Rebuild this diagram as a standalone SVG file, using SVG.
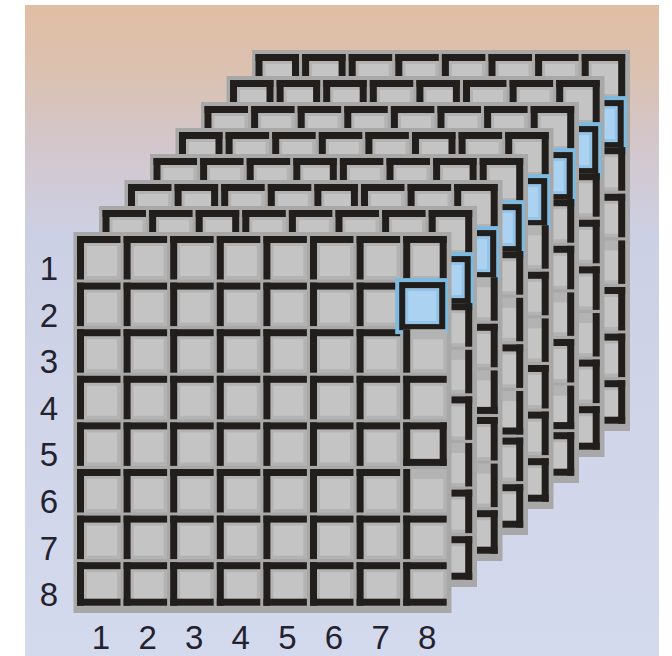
<svg xmlns="http://www.w3.org/2000/svg" width="672" height="656" viewBox="0 0 672 656">
<style>
.lbl{font-family:"Liberation Sans",Arial,sans-serif;font-size:33px;fill:#23222e;text-anchor:middle}
.grid{fill:#a8a8a8}
</style>
<defs>
<linearGradient id="bg" x1="0" y1="0" x2="0" y2="1">
<stop offset="0" stop-color="#e0bea3"/>
<stop offset="0.1" stop-color="#dbc1b0"/>
<stop offset="0.2" stop-color="#d4c6c9"/>
<stop offset="0.36" stop-color="#ccd0e5"/>
<stop offset="1" stop-color="#d4daee"/>
</linearGradient>
<rect id="bT" width="43.5" height="7" fill="#221e1b"/>
<rect id="bL" width="7" height="43.5" fill="#221e1b"/>
<rect id="bR" x="36.5" width="7" height="43.5" fill="#221e1b"/>
<rect id="bB" y="36.5" width="43.5" height="7" fill="#221e1b"/>
<g id="f"><rect width="43.5" height="43.5" fill="#b3b3b3"/><rect x="10" y="10" width="30" height="30" fill="#c4c4c4"/></g>
<g id="TL"><use href="#f"/><use href="#bT"/><use href="#bL"/></g>
<g id="TLR"><use href="#f"/><use href="#bT"/><use href="#bL"/><use href="#bR"/></g>
<g id="TLB"><use href="#f"/><use href="#bT"/><use href="#bL"/><use href="#bB"/></g>
<g id="BOX"><use href="#f"/><use href="#bT"/><use href="#bL"/><use href="#bR"/><use href="#bB"/></g>
<g id="L"><use href="#f"/><use href="#bL"/></g>
<g id="R"><use href="#f"/><use href="#bR"/></g>
<g id="TR"><use href="#f"/><use href="#bT"/><use href="#bR"/></g>
<g id="RB"><use href="#f"/><use href="#bR"/><use href="#bB"/></g>
<g id="TRB"><use href="#f"/><use href="#bT"/><use href="#bR"/><use href="#bB"/></g>
<g id="BL">
<rect x="-8" y="-4.5" width="53" height="56" fill="#7dbadf"/>
<rect x="-4" y="-0.5" width="46" height="48" fill="#221e1b"/>
<rect x="2" y="5.5" width="34" height="36" fill="#94c3e8"/>
<rect x="5" y="8.5" width="28" height="30" fill="#acd2f1"/>
</g>
<g id="row7TL">
<use href="#TL" x="77"/><use href="#TL" x="123.6"/><use href="#TL" x="170.2"/><use href="#TL" x="216.8"/><use href="#TL" x="263.4"/><use href="#TL" x="310"/><use href="#TL" x="356.6"/>
</g>
<g id="row7TLB">
<use href="#TLB" x="77"/><use href="#TLB" x="123.6"/><use href="#TLB" x="170.2"/><use href="#TLB" x="216.8"/><use href="#TLB" x="263.4"/><use href="#TLB" x="310"/><use href="#TLB" x="356.6"/>
</g>
<rect id="plate" x="73.5" y="232" width="378" height="381" class="grid"/>
</defs>

<rect x="25" y="5" width="634" height="651" fill="url(#bg)"/>

<g id="layer-8" transform="translate(178.5,-182)">
<use href="#plate"/>
<use href="#TLR" x="77" y="236"/><use href="#TLR" x="123.6" y="236"/><use href="#TL" x="170.2" y="236"/><use href="#TL" x="216.8" y="236"/><use href="#TL" x="263.4" y="236"/><use href="#TL" x="310" y="236"/><use href="#TL" x="356.6" y="236"/>
<use href="#TLR" x="403.2" y="236"/><use href="#BL" x="403.2" y="282.6"/><use href="#TR" x="403.2" y="329.2"/><use href="#TR" x="403.2" y="375.8"/><use href="#R" x="403.2" y="422.4"/><use href="#TR" x="403.2" y="469"/><use href="#TR" x="403.2" y="515.6"/><use href="#TRB" x="403.2" y="562.2"/>
</g>

<g id="layer-7" transform="translate(153,-156)">
<use href="#plate"/>
<use href="#TLR" x="77" y="236"/><use href="#TLR" x="123.6" y="236"/><use href="#TLR" x="170.2" y="236"/><use href="#TL" x="216.8" y="236"/><use href="#TLR" x="263.4" y="236"/><use href="#TL" x="310" y="236"/><use href="#TL" x="356.6" y="236"/>
<use href="#TLR" x="403.2" y="236"/><use href="#BL" x="403.2" y="282.6"/><use href="#TR" x="403.2" y="329.2"/><use href="#TR" x="403.2" y="375.8"/><use href="#TR" x="403.2" y="422.4"/><use href="#R" x="403.2" y="469"/><use href="#TR" x="403.2" y="515.6"/><use href="#TRB" x="403.2" y="562.2"/>
</g>

<g id="layer-6" transform="translate(127.5,-130)">
<use href="#plate"/>
<use href="#TL" x="77" y="236"/><use href="#TL" x="123.6" y="236"/><use href="#TL" x="170.2" y="236"/><use href="#TL" x="216.8" y="236"/><use href="#TL" x="263.4" y="236"/><use href="#TL" x="310" y="236"/><use href="#TL" x="356.6" y="236"/>
<use href="#TLR" x="403.2" y="236"/><use href="#BL" x="403.2" y="282.6"/><use href="#TR" x="403.2" y="329.2"/><use href="#TR" x="403.2" y="375.8"/><use href="#R" x="403.2" y="422.4"/><use href="#TR" x="403.2" y="469"/><use href="#RB" x="403.2" y="515.6"/><use href="#TRB" x="403.2" y="562.2"/>
</g>

<g id="layer-5" transform="translate(102,-104)">
<use href="#plate"/>
<use href="#TLR" x="77" y="236"/><use href="#TL" x="123.6" y="236"/><use href="#TL" x="170.2" y="236"/><use href="#TL" x="216.8" y="236"/><use href="#TL" x="263.4" y="236"/><use href="#TLR" x="310" y="236"/><use href="#TL" x="356.6" y="236"/>
<use href="#TLR" x="403.2" y="236"/><use href="#BL" x="403.2" y="282.6"/><use href="#R" x="403.2" y="329.2"/><use href="#TR" x="403.2" y="375.8"/><use href="#R" x="403.2" y="422.4"/><use href="#TR" x="403.2" y="469"/><use href="#TR" x="403.2" y="515.6"/><use href="#TRB" x="403.2" y="562.2"/>
</g>

<g id="layer-4" transform="translate(76.5,-78)">
<use href="#plate"/>
<use href="#TL" x="77" y="236"/><use href="#TL" x="123.6" y="236"/><use href="#TL" x="170.2" y="236"/><use href="#TLR" x="216.8" y="236"/><use href="#TL" x="263.4" y="236"/><use href="#TL" x="310" y="236"/><use href="#TLR" x="356.6" y="236"/>
<use href="#TLR" x="403.2" y="236"/><use href="#BL" x="403.2" y="282.6"/><use href="#TR" x="403.2" y="329.2"/><use href="#R" x="403.2" y="375.8"/><use href="#TR" x="403.2" y="422.4"/><use href="#RB" x="403.2" y="469"/><use href="#TR" x="403.2" y="515.6"/><use href="#TRB" x="403.2" y="562.2"/>
</g>

<g id="layer-3" transform="translate(51,-52)">
<use href="#plate"/>
<use href="#TL" x="77" y="236"/><use href="#TLR" x="123.6" y="236"/><use href="#TL" x="170.2" y="236"/><use href="#TL" x="216.8" y="236"/><use href="#TLR" x="263.4" y="236"/><use href="#TL" x="310" y="236"/><use href="#TL" x="356.6" y="236"/>
<use href="#TLR" x="403.2" y="236"/><use href="#BL" x="403.2" y="282.6"/><use href="#R" x="403.2" y="329.2"/><use href="#TR" x="403.2" y="375.8"/><use href="#RB" x="403.2" y="422.4"/><use href="#TR" x="403.2" y="469"/><use href="#R" x="403.2" y="515.6"/><use href="#TRB" x="403.2" y="562.2"/>
</g>

<g id="layer-2" transform="translate(25.5,-26)">
<use href="#plate"/>
<use href="#TL" x="77" y="236"/><use href="#TL" x="123.6" y="236"/><use href="#TLR" x="170.2" y="236"/><use href="#TL" x="216.8" y="236"/><use href="#TL" x="263.4" y="236"/><use href="#TL" x="310" y="236"/><use href="#TL" x="356.6" y="236"/>
<use href="#TLR" x="403.2" y="236"/><use href="#BL" x="403.2" y="282.6"/><use href="#TR" x="403.2" y="329.2"/><use href="#R" x="403.2" y="375.8"/><use href="#TR" x="403.2" y="422.4"/><use href="#R" x="403.2" y="469"/><use href="#TR" x="403.2" y="515.6"/><use href="#TRB" x="403.2" y="562.2"/>
</g>

<g id="layer-1">
<use href="#plate"/>
<use href="#row7TL" y="236"/><use href="#row7TL" y="282.6"/><use href="#row7TL" y="329.2"/><use href="#row7TL" y="375.8"/><use href="#row7TL" y="422.4"/><use href="#row7TL" y="469"/><use href="#row7TL" y="515.6"/><use href="#row7TLB" y="562.2"/>
<use href="#TLR" x="403.2" y="236"/><use href="#BL" x="403.2" y="282.6"/><use href="#L" x="403.2" y="329.2"/><use href="#TL" x="403.2" y="375.8"/><use href="#BOX" x="403.2" y="422.4"/><use href="#L" x="403.2" y="469"/><use href="#TL" x="403.2" y="515.6"/><use href="#TLB" x="403.2" y="562.2"/>
</g>

<g id="row-labels">
<text class="lbl" x="49" y="280">1</text>
<text class="lbl" x="49" y="326.6">2</text>
<text class="lbl" x="49" y="373.2">3</text>
<text class="lbl" x="49" y="419.8">4</text>
<text class="lbl" x="49" y="466.4">5</text>
<text class="lbl" x="49" y="513">6</text>
<text class="lbl" x="49" y="559.6">7</text>
<text class="lbl" x="49" y="606.2">8</text>
</g>
<g id="col-labels">
<text class="lbl" x="101" y="649">1</text>
<text class="lbl" x="147.6" y="649">2</text>
<text class="lbl" x="194.2" y="649">3</text>
<text class="lbl" x="240.8" y="649">4</text>
<text class="lbl" x="287.4" y="649">5</text>
<text class="lbl" x="334" y="649">6</text>
<text class="lbl" x="380.6" y="649">7</text>
<text class="lbl" x="427.2" y="649">8</text>
</g>
</svg>
